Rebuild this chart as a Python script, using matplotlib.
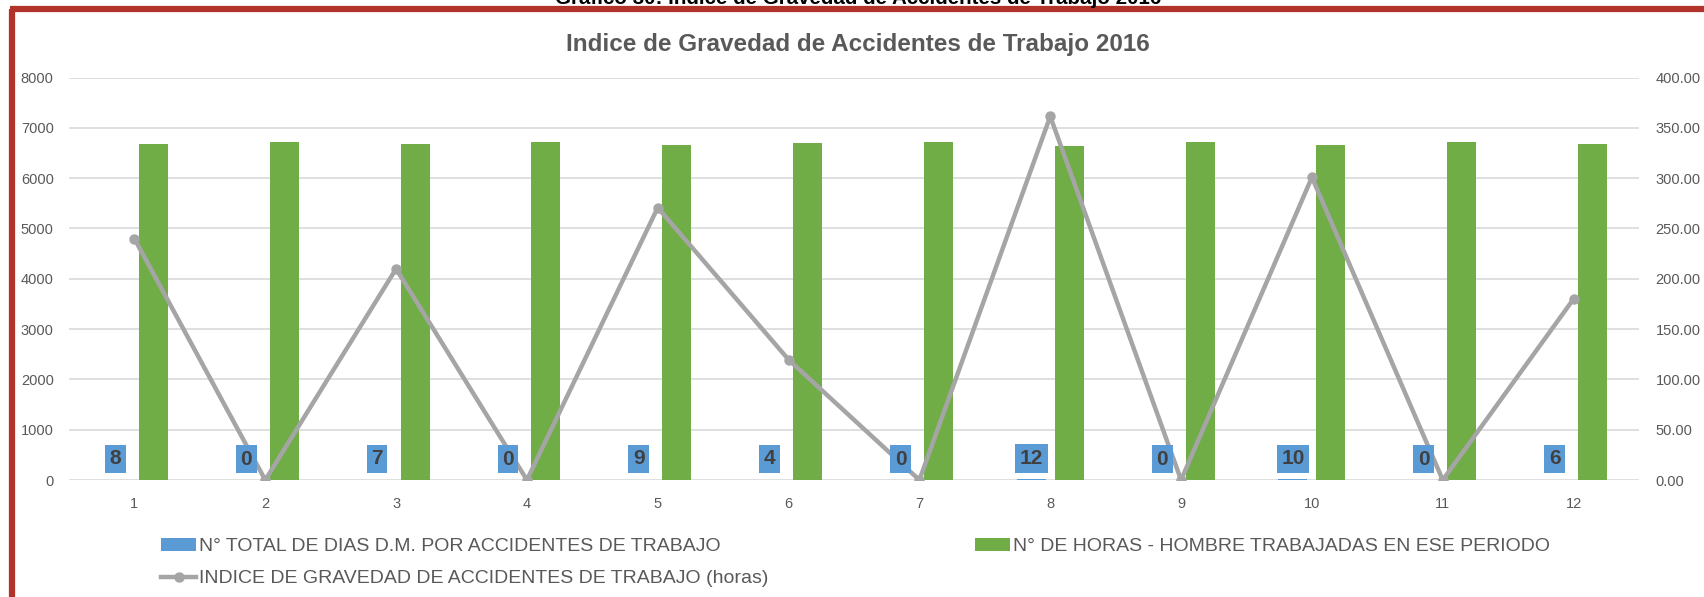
import matplotlib
matplotlib.use("Agg")
import matplotlib.pyplot as plt
from matplotlib.lines import Line2D
from matplotlib.patches import Patch
import numpy as np

# Monthly data, 2016
months = ["1", "2", "3", "4", "5", "6", "7", "8", "9", "10", "11", "12"]
lost_days = [8, 0, 7, 0, 9, 4, 0, 12, 0, 10, 0, 6]
man_hours = [6670, 6710, 6670, 6720, 6650, 6690, 6720, 6640, 6720, 6650, 6720, 6670]
severity_index = [239.9, 0, 209.9, 0, 270.7, 119.6, 0, 361.4, 0, 300.8, 0, 179.9]

left_ticks = [0, 1000, 2000, 3000, 4000, 5000, 6000, 7000, 8000]
right_ticks = [0, 50, 100, 150, 200, 250, 300, 350, 400]

title = "Indice de Gravedad de Accidentes de Trabajo 2016"
caption = "Grafico 30: Indice de Gravedad de Accidentes de Trabajo 2016"
label_days = "N° TOTAL DE DIAS D.M. POR ACCIDENTES DE TRABAJO"
label_hours = "N° DE HORAS - HOMBRE TRABAJADAS EN ESE PERIODO"
label_index = "INDICE DE GRAVEDAD DE ACCIDENTES DE TRABAJO (horas)"

BLUE = "#5B9BD5"
GREEN = "#70AD47"
GREY_LINE = "#A5A5A5"
TEXT = "#595959"
GRID = "#D9D9D9"
RED = "#B2332A"

plt.rcParams["font.family"] = ["Liberation Sans", "DejaVu Sans"]

W, H = 1704, 597
fig = plt.figure(figsize=(W / 100, H / 100), dpi=100)
fig.patch.set_facecolor("white")

# plot area
x0, x1 = 69 / W, 1639 / W
y0, y1 = 1 - 480 / H, 1 - 77.5 / H
ax = fig.add_axes([x0, y0, x1 - x0, y1 - y0])
ax2 = ax.twinx()

x = np.arange(1, len(months) + 1)
bw = 0.222
off = 0.145

ax.bar(x - off, lost_days, width=bw, color=BLUE, zorder=3)
ax.bar(x + off, man_hours, width=bw, color=GREEN, zorder=3)

ax.set_xlim(0.5, len(months) + 0.5)
ax.set_ylim(0, 8000)
ax.set_yticks(left_ticks)
ax.set_yticklabels([str(t) for t in left_ticks])
ax.set_xticks(x)
ax.set_xticklabels(months)
ax.grid(axis="y", color=GRID, linewidth=1.2, zorder=0)
ax.set_axisbelow(True)
for s in ax.spines.values():
    s.set_visible(False)
ax.tick_params(axis="both", length=0, labelsize=10.5, labelcolor=TEXT)
ax.tick_params(axis="x", pad=12)
ax.tick_params(axis="y", pad=11)

ax2.plot(x, severity_index, color=GREY_LINE, linewidth=3.2, marker="o",
         markersize=6.5, zorder=4)
ax2.set_ylim(0, 400)
ax2.set_yticks(right_ticks)
ax2.set_yticklabels([f"{t:.2f}" for t in right_ticks])
for s in ax2.spines.values():
    s.set_visible(False)
ax2.tick_params(axis="y", length=0, labelsize=10.5, labelcolor=TEXT, pad=12)

# value labels of the lost-days bars, drawn above the line
for xi, v in zip(x, lost_days):
    ax2.annotate(str(v), xy=(xi - off, v), xycoords=ax.transData,
                 xytext=(0, 15), textcoords="offset points",
                 ha="center", va="center", fontsize=15, fontweight="bold",
                 color="#404040", zorder=6,
                 bbox=dict(boxstyle="square,pad=0.22", fc=BLUE, ec="none"))

# titles
fig.text(858 / W, 1 - 44 / H, title, ha="center", va="center", fontsize=17.5,
         fontweight="bold", color=TEXT)
fig.text(858 / W, 1 - 4 / H, caption, ha="center", va="baseline", fontsize=14.8,
         fontweight="bold", color="black")

# frame
fig.add_artist(Line2D([11.5 / W, 11.5 / W], [0, 1 - 8.5 / H], color=RED,
                      linewidth=4.5, transform=fig.transFigure, solid_capstyle="butt"))
fig.add_artist(Line2D([9.5 / W, 1], [1 - 8.5 / H, 1 - 8.5 / H], color=RED,
                      linewidth=4.5, transform=fig.transFigure, solid_capstyle="butt"))

# legend
h_days = Patch(facecolor=BLUE, edgecolor="none")
h_hours = Patch(facecolor=GREEN, edgecolor="none")
h_index = Line2D([], [], color=GREY_LINE, linewidth=3.2, marker="o", markersize=6.5)
leg_kw = dict(frameon=False, loc="upper left", handlelength=1.8, handleheight=0.67,
              handletextpad=0.15, labelspacing=0.75, borderaxespad=0, borderpad=0,
              prop=dict(size=14), labelcolor=TEXT)
leg1 = fig.legend([h_days, h_index], [label_days, label_index],
                  bbox_to_anchor=(161 / W, 1 - 538 / H), **leg_kw)
leg2 = fig.legend([h_hours], [label_hours],
                  bbox_to_anchor=(975 / W, 1 - 538 / H), **leg_kw)

fig.savefig("out.png", dpi=100, facecolor="white")
